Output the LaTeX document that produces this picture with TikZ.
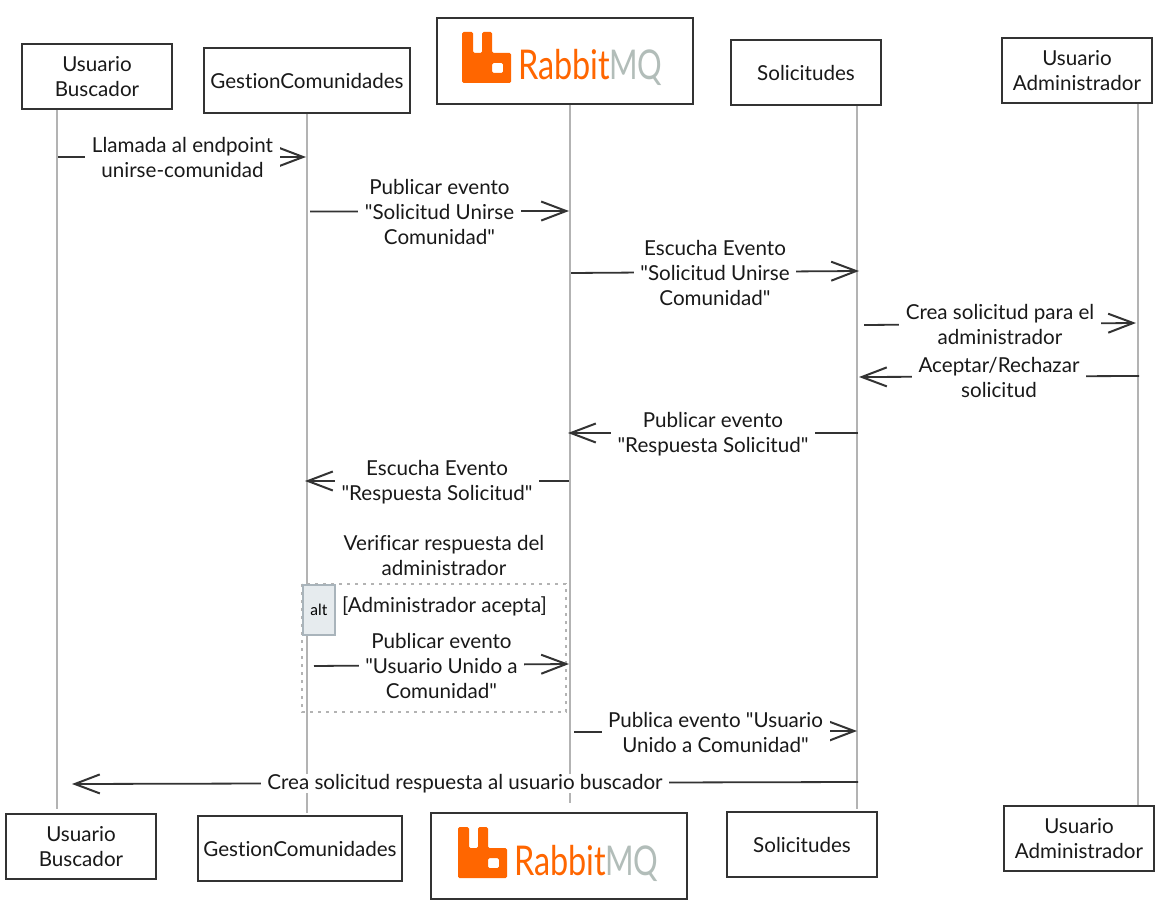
\documentclass[tikz,border=0pt]{standalone}
\usepackage{fontspec}
\setmainfont{Lato}[Ligatures={TeXOff,NoCommon}]
\usetikzlibrary{arrows.meta,positioning,calc}
\definecolor{seqink}{HTML}{333333}
\definecolor{seqlife}{HTML}{B3B3B3}
\definecolor{seqorange}{HTML}{FF6600}
\definecolor{seqmq}{HTML}{B2BDB9}
\definecolor{seqaltline}{HTML}{A9B4BB}
\definecolor{seqaltfill}{HTML}{E6EBEE}
\tikzset{
  seqactor/.style={
    rectangle, draw=seqink, fill=white, line width=1.8pt,
    minimum height=65pt, inner sep=0pt, align=center,
    text=black!90, font=\fontsize{20.6}{25}\selectfont
  },
  seqlogobox/.style={seqactor,minimum width=256pt,minimum height=86pt},
  seqlifeline/.style={draw=seqlife,line width=2pt},
  seqedge/.style={-{Straight Barb[length=25pt,width=19pt,line width=2pt]},draw=seqink,line width=1.8pt},
  seqlabel/.style={
    font=\fontsize{20.6}{25}\selectfont,align=center,fill=white,text=black!90,
    inner xsep=6.5pt,inner ysep=0pt,yshift=-0.8pt
  },
  seqnote/.style={seqlabel,fill=none},
  seqframe/.style={draw=seqlife,line width=2.2pt,dash pattern=on 3pt off 5pt},
  seqalt/.style={
    rectangle, draw=seqaltline, fill=seqaltfill, line width=1.8pt,
    minimum width=32pt, minimum height=50pt, inner sep=0pt,
    font=\fontsize{15.5}{18}\selectfont
  },
  rabbitlogo/.pic={
    \fill[seqorange,rounded corners=1.5pt,even odd rule]
      (-103,-29) -- (-92,-29) -- (-92,-8) -- (-83,-8) -- (-83,-29) -- (-73,-29)
      -- (-73,-8) -- (-54,-8) -- (-54,22) -- (-103,22) -- cycle
      (-73,2) rectangle (-62,12);
    \node[anchor=base west,inner sep=0pt,text=seqorange,font=\fontsize{41}{41}\selectfont,xscale=0.79] (-rabbit) at (-47,19) {Rabbit};
    \node[anchor=base west,inner sep=0pt,text=seqmq,font=\fontsize{41}{41}\selectfont,xscale=0.75] (-mq) at (44,19) {MQ};
  }
}
\begin{document}
\begin{tikzpicture}[x=1pt,y=-1pt]
  \useasboundingbox (0,0) rectangle (1170,901);
  % top row
  \node[seqactor,minimum width=150pt] (buscador) at (97,76.5) {Usuario\\Buscador};
  \node[seqactor,minimum width=206pt] (gestion) at (307,80.5) {GestionComunidades};
  \node[seqlogobox] (rabbit) at (565,61) {};
  \node[seqactor,minimum width=150pt] (solicitudes) at (806,72.5) {Solicitudes};
  \node[seqactor,minimum width=150pt] (admin) at (1077,70.5) {Usuario\\Administrador};
  % bottom row
  \node[seqactor,minimum width=150pt] (buscadorb) at (81,846.5) {Usuario\\Buscador};
  \node[seqactor,minimum width=204pt] (gestionb) at (300,848.5) {GestionComunidades};
  \node[seqlogobox] (rabbitb) at (559,856) {};
  \node[seqactor,minimum width=150pt] (solicitudesb) at (802,844.5) {Solicitudes};
  \node[seqactor,minimum width=150pt] (adminb) at (1079,838.5) {Usuario\\Administrador};
  \pic (logo) at (rabbit) {rabbitlogo};
  \pic (logob) at ([xshift=2pt]rabbitb.center) {rabbitlogo};
  % lifelines
  \coordinate (xbuscador) at (57,0);
  \coordinate (xgestion) at (307,0);
  \coordinate (xrabbit) at (570,0);
  \coordinate (xsolicitudes) at (857,0);
  \coordinate (xadmin) at (1138,0);
  \draw[seqlifeline,shorten >=4pt] (xbuscador |- buscador.south) -- (xbuscador |- buscadorb.north);
  \draw[seqlifeline,shorten >=2pt] (xgestion |- gestion.south) -- (xgestion |- gestionb.north);
  \draw[seqlifeline,shorten >=9pt] (xrabbit |- rabbit.south) -- (xrabbit |- rabbitb.north);
  \draw[seqlifeline,shorten >=2pt] (xsolicitudes |- solicitudes.south) -- (xsolicitudes |- solicitudesb.north);
  \draw[seqlifeline] (xadmin |- admin.south) -- (xadmin |- adminb.north);
  % alt frame
  \coordinate (framea) at (302,584);
  \coordinate (frameb) at (566,712);
  \draw[seqframe] (framea) rectangle (frameb);
  \node[seqalt,anchor=north west] (alt) at (framea) {alt};
  \node[seqnote] (altcond) at (444.5,606) {[Administrador acepta]};
  \node[seqnote] (verificar) at (444,555) {Verificar respuesta del\\administrador};
  % messages
  \coordinate (m1a) at (58,157);    \coordinate (m1b) at (306,157);
  \coordinate (m2a) at (310,211.5); \coordinate (m2b) at (569,211);
  \coordinate (m3a) at (571,273);   \coordinate (m3b) at (859,271);
  \coordinate (m4a) at (864,325);   \coordinate (m4b) at (1136,323);
  \coordinate (m5a) at (1139,376);  \coordinate (m5b) at (859,377);
  \coordinate (m6a) at (858,433);   \coordinate (m6b) at (568,433);
  \coordinate (m7a) at (569,481);   \coordinate (m7b) at (305,481);
  \coordinate (m8a) at (314,666);   \coordinate (m8b) at (569,664);
  \coordinate (m9a) at (574,732);   \coordinate (m9b) at (857,731);
  \coordinate (m10a) at (858,782);  \coordinate (m10b) at (72,784);
  \draw[seqedge] (m1a) -- node[seqlabel,pos=0.502] (t1) {Llamada al endpoint\\unirse-comunidad} (m1b);
  \draw[seqedge] (m2a) -- node[seqlabel] (t2) {Publicar evento\\"Solicitud Unirse\\Comunidad"} (m2b);
  \draw[seqedge] (m3a) -- node[seqlabel] (t3) {Escucha Evento\\"Solicitud Unirse\\Comunidad"} (m3b);
  \draw[seqedge] (m4a) -- node[seqlabel] (t4) {Crea solicitud para el\\administrador} (m4b);
  \draw[seqedge] (m5a) -- node[seqlabel] (t5) {Aceptar/Rechazar\\solicitud} (m5b);
  \draw[seqedge] (m6a) -- node[seqlabel] (t6) {Publicar evento\\"Respuesta Solicitud"} (m6b);
  \draw[seqedge] (m7a) -- node[seqlabel] (t7) {Escucha Evento\\"Respuesta Solicitud"} (m7b);
  \draw[seqedge] (m8a) -- node[seqlabel] (t8) {Publicar evento\\"Usuario Unido a\\Comunidad"} (m8b);
  \draw[seqedge] (m9a) -- node[seqlabel] (t9) {Publica evento "Usuario\\Unido a Comunidad"} (m9b);
  \draw[seqedge] (m10a) -- node[seqlabel] (t10) {Crea solicitud respuesta al usuario buscador} (m10b);
\end{tikzpicture}
\end{document}
